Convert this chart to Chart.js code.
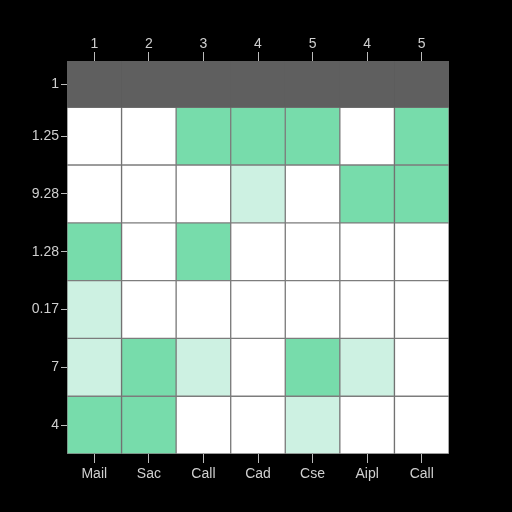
<!DOCTYPE html>
<html>
<head>
<meta charset="utf-8">
<script src="https://cdn.jsdelivr.net/npm/chart.js@4/dist/chart.umd.min.js"></script>
<style>
  html, body { margin: 0; padding: 0; background: #000; }
  #wrap { width: 512px; height: 512px; }
</style>
</head>
<body>
<div id="wrap"><canvas id="heatChart" width="512" height="512"></canvas></div>
<script>
// data
var columnLabels = ['Mail', 'Sac', 'Call', 'Cad', 'Cse', 'Aipl', 'Call'];
var topLabels = ['1', '2', '3', '4', '5', '4', '5'];
var rowLabels = ['1', '1.25', '9.28', '1.28', '0.17', '7', '4']; // top to bottom
// null = no value (grey), 1 = high, 0.5 = medium, 0 = none
var row1 = [null, null, null, null, null, null, null];
var row2 = [0, 0, 1, 1, 1, 0, 1];
var row3 = [0, 0, 0, 0.5, 0, 1, 1];
var row4 = [1, 0, 1, 0, 0, 0, 0];
var row5 = [0.5, 0, 0, 0, 0, 0, 0];
var row6 = [0.5, 1, 0.5, 0, 1, 0.5, 0];
var row7 = [1, 1, 0, 0, 0.5, 0, 0];
var cellValues = [row1, row2, row3, row4, row5, row6, row7];

// layout: the top (empty) row is drawn a bit shorter than the others
var TOP_ROW = 0.8;
var nRows = rowLabels.length;
var edges = [];
for (var k = 0; k <= nRows - 1; k++) edges.push(k);
edges.push(nRows - 1 + TOP_ROW);
// edges[k]..edges[k+1] is the k-th row counted from the bottom

function cellColor(v) {
    if (v === null) return '#5f5f5f';
    if (v >= 1) return '#77dcab';
    if (v >= 0.5) return '#cdf1e2';
    return '#ffffff';
}

var datasets = cellValues.map(function (vals, r) {
    var b = nRows - 1 - r; // index from bottom
    return {
        label: rowLabels[r],
        data: vals.map(function () { return [edges[b], edges[b + 1]]; }),
        backgroundColor: vals.map(cellColor),
        borderColor: '#7d7d7d',
        borderWidth: vals.map(function (v) { return v === null ? 0 : 1; }),
        borderSkipped: false,
        barPercentage: 1,
        categoryPercentage: 1,
        grouped: false
    };
});

var tickFont = { family: 'Liberation Sans, Arial, sans-serif', size: 14 };
var tickColor = '#cfcfcf';

var ctx = document.getElementById('heatChart').getContext('2d');
var heatChart = new Chart(ctx, {
    type: 'bar',
    data: {
        labels: columnLabels,
        datasets: datasets
    },
    options: {
        responsive: false,
        animation: false,
        layout: { padding: { left: 0, right: 63, top: 0, bottom: 0 } },
        plugins: {
            legend: { display: false },
            tooltip: { enabled: false }
        },
        scales: {
            x: {
                type: 'category',
                position: 'bottom',
                offset: true,
                grid: { display: true, offset: false, drawOnChartArea: false, color: '#bbbbbb', tickLength: 9 },
                border: { display: false },
                ticks: { color: tickColor, font: tickFont, padding: 3, maxRotation: 0 },
                afterFit: function (scale) { scale.height = 58; }
            },
            x2: {
                type: 'category',
                position: 'top',
                labels: topLabels,
                offset: true,
                grid: { display: true, offset: false, drawOnChartArea: false, color: '#bbbbbb', tickLength: 9 },
                border: { display: false },
                ticks: { color: tickColor, font: tickFont, padding: -1, maxRotation: 0 },
                afterFit: function (scale) { scale.height = 61; }
            },
            y: {
                type: 'linear',
                min: 0,
                max: edges[edges.length - 1],
                grid: { display: true, drawOnChartArea: false, color: '#bbbbbb', tickLength: 6 },
                border: { display: false },
                afterBuildTicks: function (scale) {
                    var t = [];
                    for (var b = 0; b < nRows; b++) t.push({ value: (edges[b] + edges[b + 1]) / 2 });
                    scale.ticks = t;
                },
                ticks: {
                    color: tickColor,
                    font: tickFont,
                    padding: 2,
                    callback: function (value, index) {
                        return rowLabels[nRows - 1 - index];
                    }
                },
                afterFit: function (scale) { scale.width = 67; }
            }
        }
    }
});
</script>
</body>
</html>
